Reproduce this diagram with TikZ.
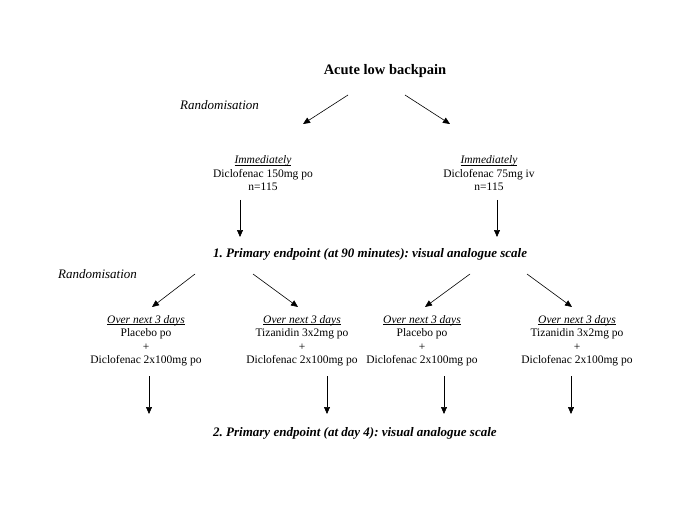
\documentclass[tikz,border=0pt]{standalone}
\usepackage{fontspec}
\setmainfont{Liberation Serif}
\usepackage{tikz}
\usetikzlibrary{arrows.meta}

\frenchspacing
\tikzset{
	flow/.style={draw=black, line width=0.6pt, -{Triangle[length=7pt,width=6pt]}},
	body/.style={font=\fontsize{11.5}{13.5}\selectfont, align=center, inner sep=0pt},
	randtxt/.style={font=\fontsize{13}{15}\selectfont\itshape, anchor=west, inner sep=0pt},
	endtxt/.style={font=\fontsize{13}{15}\selectfont\bfseries\itshape, anchor=west, inner sep=0pt}
}
\newcommand{\ulit}[1]{\underline{\smash{\textit{#1}}}\vphantom{Iy}}

\begin{document}
\begin{tikzpicture}[x=1pt,y=-1pt]
	  \useasboundingbox[fill=white] (0,0) rectangle (685,513);

	  \node[font=\fontsize{14.5}{17}\selectfont\bfseries, inner sep=0pt] (pain) at (385,71) {Acute low backpain};
	  \node[randtxt] (randA) at (180,105) {Randomisation};

	  \node[body] (po) at (263,173.5) {\ulit{Immediately}\\Diclofenac 150mg po\\n=115};
	  \node[body] (iv) at (489,173.5) {\ulit{Immediately}\\Diclofenac 75mg iv\\n=115};

	  \node[endtxt] (endA) at (213,254) {1. Primary endpoint (at 90 minutes): visual analogue scale};
	  \node[randtxt] (randB) at (58,274) {Randomisation};

	  \node[body] (poPla) at (146,341) {\ulit{Over next 3 days}\\Placebo po\\+\\Diclofenac 2x100mg po};
	  \node[body] (poTiz) at (302,341) {\ulit{Over next 3 days}\\Tizanidin 3x2mg po\\+\\Diclofenac 2x100mg po};
	  \node[body] (ivPla) at (422,341) {\ulit{Over next 3 days}\\Placebo po\\+\\Diclofenac 2x100mg po};
	  \node[body] (ivTiz) at (577,341) {\ulit{Over next 3 days}\\Tizanidin 3x2mg po\\+\\Diclofenac 2x100mg po};

	  \node[endtxt] (endB) at (213,433) {2. Primary endpoint (at day 4): visual analogue scale};

	  % arrow ends
	  \coordinate (painL) at (348,95);   \coordinate (poT) at (303,124);
	  \coordinate (painR) at (405,95);   \coordinate (ivT) at (450,124);
	  \coordinate (poB) at (240,200);    \coordinate (endAL) at (240,237);
	  \coordinate (ivB) at (497,200);    \coordinate (endAR) at (497,237);
	  \coordinate (endA1) at (195,274);  \coordinate (poPlaT) at (152,307);
	  \coordinate (endA2) at (253,274);  \coordinate (poTizT) at (298,307);
	  \coordinate (endA3) at (470,274);  \coordinate (ivPlaT) at (425,307);
	  \coordinate (endA4) at (527,274);  \coordinate (ivTizT) at (572,307);

	  \draw[flow] (painL) -- (poT);
	  \draw[flow] (painR) -- (ivT);
	  \draw[flow] (poB) -- (endAL);
	  \draw[flow] (ivB) -- (endAR);
	  \draw[flow] (endA1) -- (poPlaT);
	  \draw[flow] (endA2) -- (poTizT);
	  \draw[flow] (endA3) -- (ivPlaT);
	  \draw[flow] (endA4) -- (ivTizT);

	  % second level down arrows
	  \foreach \xx/\nm in {149/poPla,327/poTiz,444/ivPla,571/ivTiz}{
	    \coordinate (\nm B) at (\xx,376);
	    \coordinate (\nm E) at (\xx,414);
	    \draw[flow] (\nm B) -- (\nm E);
	  }
	\end{tikzpicture}
\end{document}
